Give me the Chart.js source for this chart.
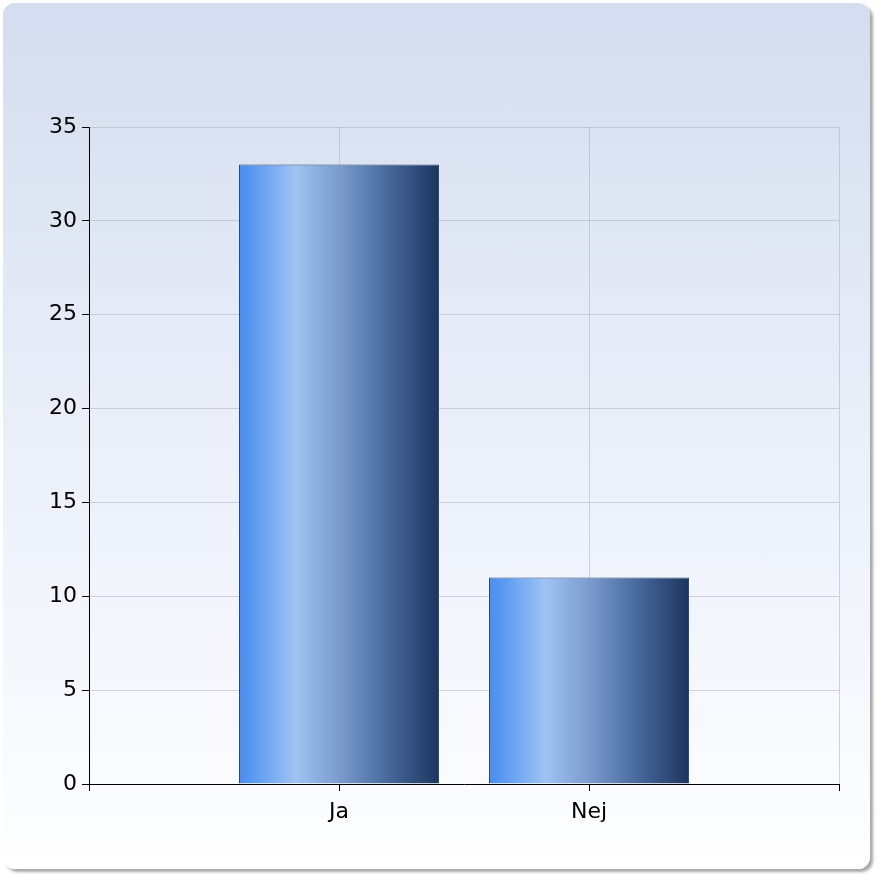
<!DOCTYPE html>
<html lang="da">
<head>
  <meta charset="UTF-8">
  <title>Ja / Nej</title>
  <script src="https://cdn.jsdelivr.net/npm/chart.js"></script>
  <style>
    html, body { margin: 0; padding: 0; background: #fff; }
    #wrap { position: relative; width: 882px; height: 882px; }
    #panel {
      position: absolute; left: 3px; top: 3px; width: 867px; height: 866px;
      border-radius: 12px;
      background: linear-gradient(to bottom, #d4ddef 0%, #e6ecf7 40%, #fbfcff 92%, #ffffff 100%);
      box-shadow: 3px 3px 3px rgba(0,0,0,0.35);
    }
    #chart { position: absolute; left: 0; top: 0; }
  </style>
</head>
<body>
  <div id="wrap">
    <div id="panel"></div>
    <canvas id="chart" width="882" height="882"></canvas>
  </div>

  <script>
    const categories = ['Ja', 'Nej'];
    const values = [33, 11];
    const yTicks = [0, 5, 10, 15, 20, 25, 30, 35];

    // one empty slot on each side, like the original axis
    const labels = [''].concat(categories, ['']);
    const data = [null].concat(values, [null]);

    function barGradient(ctx) {
      const chart = ctx.chart;
      const x = chart.scales.x;
      if (!x || ctx.type !== 'data') return '#5a8fd8';
      const c = x.getPixelForValue(ctx.dataIndex);
      const half = (x.getPixelForValue(1) - x.getPixelForValue(0)) * 0.4;
      if (!isFinite(c) || !isFinite(half) || half <= 0) return '#5a8fd8';
      const g = chart.ctx.createLinearGradient(c - half, 0, c + half, 0);
      g.addColorStop(0, '#4a8cf0');
      g.addColorStop(0.08, '#5d9bf2');
      g.addColorStop(0.28, '#9fc3f3');
      g.addColorStop(0.5, '#7b9ccd');
      g.addColorStop(0.75, '#46679a');
      g.addColorStop(1, '#1c355f');
      return g;
    }

    const font = { family: 'Verdana, "DejaVu Sans", sans-serif', size: 22 };

    new Chart(document.getElementById('chart'), {
      type: 'bar',
      data: {
        labels: labels,
        datasets: [{
          data: data,
          backgroundColor: barGradient,
          borderColor: '#2b4a74',
          borderWidth: 1,
          categoryPercentage: 1,
          barPercentage: 0.8
        }]
      },
      options: {
        responsive: false,
        animation: false,
        layout: { padding: { left: 29, right: 43, top: 127, bottom: 48 } },
        plugins: { legend: { display: false }, tooltip: { enabled: false } },
        scales: {
          x: {
            offset: false,
            grid: { color: 'rgba(165,172,188,0.5)', tickColor: '#000', tickLength: 7, offset: false },
            border: { color: '#000', width: 1 },
            ticks: { color: '#000', font: font, padding: 8, maxRotation: 0 },
            afterFit: s => { s.height = 50; }
          },
          y: {
            min: 0,
            max: 35,
            afterBuildTicks: s => { s.ticks = yTicks.map(v => ({ value: v })); },
            grid: { color: 'rgba(165,172,188,0.5)', tickColor: '#000', tickLength: 7 },
            border: { color: '#000', width: 1 },
            ticks: { color: '#000', font: font, padding: 5 },
            afterFit: s => { s.width = 60; }
          }
        }
      }
    });
  </script>
</body>
</html>
